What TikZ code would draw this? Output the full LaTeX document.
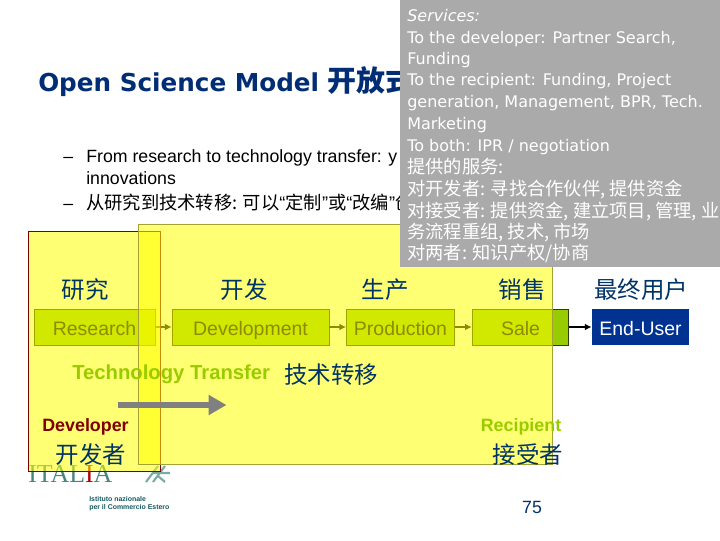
\documentclass[tikz,border=0pt]{standalone}
\usepackage{fontspec}
\setmainfont{Liberation Sans}
\newfontfamily\cjk{Noto Sans CJK SC}
\newfontfamily\dv{DejaVu Sans}
\newfontfamily\lserif{Liberation Serif}
\newfontfamily\lsans{Liberation Sans}
\newcommand{\myqL}{{\lsans “}}
\newcommand{\myqR}{{\lsans ”}}
\usetikzlibrary{arrows.meta}
\definecolor{navy}{RGB}{0,51,102}
\definecolor{ttl}{RGB}{0,45,115}
\definecolor{yel}{RGB}{255,255,0}
\definecolor{lime}{RGB}{153,204,0}
\definecolor{dkred}{RGB}{128,0,0}
\definecolor{eublue}{RGB}{0,51,145}
\definecolor{greyb}{RGB}{170,170,170}
\definecolor{logoc}{RGB}{70,135,125}
\definecolor{logod}{RGB}{20,90,95}
\tikzset{
  px/.style={x=0.75pt,y=-0.75pt},
  flowbox/.style={draw=black!70!lime,line width=0.6pt,fill=lime,inner sep=0,minimum height=27pt,text height=13.2pt,text depth=1.2pt,font=\fontsize{14.6}{16}\selectfont,text=black},
  flowarrow/.style={draw=black,line width=0.9pt,-{Latex[length=5pt,width=5pt]}},
  cntitle/.style={font=\cjk\fontsize{17.6}{19}\selectfont,text=navy,inner sep=0},
  bodyt/.style={font=\fontsize{13.3}{15}\selectfont,text=black,anchor=base west,inner sep=0},
  bodycn/.style={font=\cjk\fontsize{13.7}{15}\selectfont,text=black,anchor=base west,inner sep=0},
  svc/.style={font=\dv\fontsize{12}{14}\selectfont,text=white,anchor=base west,inner sep=0},
  svccn/.style={font=\cjk\fontsize{13.7}{15}\selectfont,text=white,anchor=base west,inner sep=0},
  logo/.style={inner sep=0,text=logoc},
  logosmall/.style={inner sep=0,text=logod,anchor=west,font=\bfseries\fontsize{5.2}{6}\selectfont},
  roletext/.style={anchor=center,inner sep=0,font=\bfseries\fontsize{13.4}{15}\selectfont},
}
\begin{document}
\begin{tikzpicture}[px]
\useasboundingbox (0,0) rectangle (720,540);
\fill[white] (0,0) rectangle (720,540);
\node[anchor=base west,inner sep=0,text=ttl,font=\dv\bfseries\fontsize{18.5}{20}\selectfont] (title) at (38,91) {Open Science Model {\cjk\bfseries\fontsize{21.7}{23}\selectfont 开放式}};
\node[bodyt] (dash1) at (63,162) {–};
\node[bodyt] (b1) at (86,162) {From research to technology transfer: y};
\node[bodyt] (b2) at (86,184) {innovations};
\node[bodyt] (dash2) at (63,209) {–};
\node[bodycn] (b3) at (86,209) {从研究到技术转移: 可以\myqL 定制\myqR 或\myqL 改编\myqR 创};
% logo
\node[logo,anchor=base west,font=\lserif\fontsize{19.4}{21}\selectfont] (it) at (28,482) {ITAL{\color{red!70!black}I}A};
\node[logosmall] (l1) at (89,499) {Istituto nazionale};
\node[logosmall] (l2) at (89,508) {per il Commercio Estero};
\draw[logoc!70,line width=1.6pt] (146,482)--(158,466) (153,482)--(165,466) (152,473)--(170,473) (158,476)--(165,482);
% process row
\node[flowbox,minimum width=90.75pt] (n1) at (94.5,327) {Research};
\node[flowbox,minimum width=117.75pt] (n2) at (250.5,327) {Development};
\node[flowbox,minimum width=81pt] (n3) at (400.5,327) {Production};
\node[flowbox,minimum width=72.5pt] (n4) at (520.5,327) {Sale};
\node[draw=none,fill=eublue,text=white,inner sep=0,minimum width=73pt,minimum height=27pt,text height=13.2pt,text depth=1.2pt,font=\fontsize{14.6}{16}\selectfont] (n5) at (640.5,327) {End-User};
\draw[flowarrow] (n1) -- (n2);
\draw[flowarrow] (n2) -- (n3);
\draw[flowarrow] (n3) -- (n4);
\draw[flowarrow] (n4) -- (n5);
% overlays
\draw[draw=dkred,line width=0.6pt,fill=yel,fill opacity=0.55] (28.5,231.5) rectangle (160.5,471.5);
\draw[draw=black!45!yel!80!white,line width=0.7pt,fill=yel,fill opacity=0.55] (138.5,224.5) rectangle (552.5,464);
% labels above the overlays
\node[cntitle] (c1) at (85,290) {研究};
\node[cntitle] (c2) at (244,290) {开发};
\node[cntitle] (c3) at (385,290) {生产};
\node[cntitle] (c4) at (522,290) {销售};
\node[cntitle] (c5) at (641,290) {最终用户};
\node[anchor=west,inner sep=0,text=lime,font=\bfseries\fontsize{15.2}{17}\selectfont] (tt) at (72,374) {Technology Transfer};
\node[cntitle,anchor=west] (ttc) at (284,375) {技术转移};
\coordinate (as) at (118,405);
\coordinate (ae) at (226.5,405);
\draw[draw=black!50,line width=5pt,-{Triangle[length=13.5pt,width=14.5pt]}] (as) -- (ae);
\node[roletext,text=dkred] (dev) at (85.5,427) {Developer};
\node[cntitle] (devc) at (91,455) {开发者};
\node[roletext,text=lime] (rec) at (521,427) {Recipient};
\node[cntitle] (recc) at (528,455) {接受者};
\node[inner sep=0,text=navy,font=\fontsize{13.3}{15}\selectfont] (pg) at (532,507) {75};
% grey box
\fill[greyb] (400,0) rectangle (720,267);
\node[svc,font=\dv\itshape\fontsize{12}{14}\selectfont] (s0) at (407,21.5) {Services:};
\node[svc] (s1) at (407,43) {To the developer: Partner Search,};
\node[svc] (s2) at (407,64.5) {Funding};
\node[svc] (s3) at (407,85.5) {To the recipient: Funding, Project};
\node[svc] (s4) at (407,107) {generation, Management, BPR, Tech.};
\node[svc] (s5) at (407,129) {Marketing};
\node[svc] (s6) at (407,151) {To both: IPR / negotiation};
\node[svccn] (s7) at (407,173) {提供的服务:};
\node[svccn] (s8) at (407,195.5) {对开发者: 寻找合作伙伴, 提供资金};
\node[svccn] (s9) at (407,217.5) {对接受者: 提供资金, 建立项目, 管理, 业};
\node[svccn] (s10) at (407,238.5) {务流程重组, 技术, 市场};
\node[svccn] (s11) at (407,259.5) {对两者: 知识产权/协商};
\end{tikzpicture}
\end{document}
